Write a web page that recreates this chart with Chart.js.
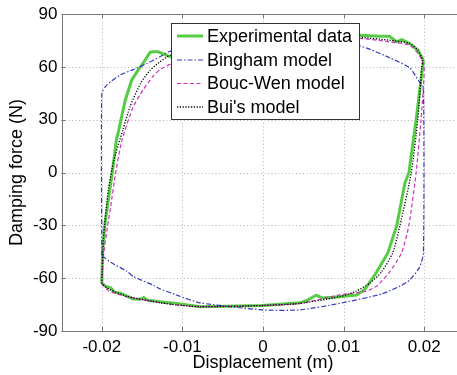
<!DOCTYPE html>
<html>
<head>
<meta charset="utf-8">
<script src="https://cdn.jsdelivr.net/npm/chart.js@4/dist/chart.umd.min.js"></script>
<style>
html,body{margin:0;padding:0;overflow:hidden;background:#fff;}
#wrap{width:470px;height:375px;}
</style>
</head>
<body>
<div id="wrap"><canvas id="c" width="470" height="375"></canvas></div>
<script>
// ---- tick values / labels ----
const xTickValues = [-0.02, -0.01, 0, 0.01, 0.02];
const xTickLabels = ['-0.02', '-0.01', '0', '0.01', '0.02'];
const yTickValues = [-90, -60, -30, 0, 30, 60, 90];
const yTickLabels = ['-90', '-60', '-30', '0', '30', '60', '90'];

const seriesNames = ['Experimental data', 'Bingham model', 'Bouc-Wen model', "Bui's model"];

// ---- Experimental data ----
const expDisp = [-0.0200,-0.0199,-0.0196,-0.0187,-0.0182,-0.0179,-0.0171,-0.0163,-0.0155,-0.0148,-0.0140,-0.0136,-0.0130,-0.0115,-0.008,-0.004,0,0.004,0.008,0.0120,0.0145,0.0157,0.0166,0.0172,0.0182,0.0192,0.0198,0.0199,0.0198,0.0190,0.0181,0.0176,0.0166,0.0155,0.0141,0.0133,0.0126,0.0116,0.0095,0.0074,0.0066,0.0055,0.0046,0,-0.0078,-0.0107,-0.0128,-0.0143,-0.0148,-0.0152,-0.0161,-0.0177,-0.0184,-0.0189,-0.0194,-0.0200];
const expForce = [-63,-44,-28.7,0,18.5,24,41,52.5,58.2,62.7,68.4,68.6,68.6,65.8,70,72,74,75.5,76.8,78,77.5,77.5,74.3,75.6,73.4,69.6,64.8,62,60,30,0,-6,-30,-45.5,-56.5,-62,-66.5,-69.6,-70.5,-71.3,-69.6,-72.5,-74,-75.5,-76.2,-74.3,-73.4,-72.5,-71,-72,-71.8,-68.5,-68,-65.5,-64.8,-63];

// ---- Bingham model ----
const bingDisp = [-0.0200,-0.0200,-0.0194,-0.0177,-0.0161,-0.0144,-0.0128,-0.0115,-0.008,-0.004,0,0.004,0.008,0.0120,0.0133,0.0157,0.0182,0.0194,0.0199,0.0199,0.0194,0.0182,0.0170,0.0147,0.0095,0.0046,0,-0.0078,-0.0107,-0.0128,-0.0136,-0.0161,-0.0169,-0.0189,-0.0200];
const bingForce = [-47,45,49.7,55.5,58.5,62,65.8,69,71.5,73.5,74.5,74.8,74.2,72,70,65.3,59.6,51.5,48.5,-45.8,-54,-61,-64.5,-69,-74.3,-78,-78,-74,-69.6,-66,-64,-59,-56,-51,-47];

// ---- Bouc-Wen model ----
const bwDisp = [-0.0200,-0.0198,-0.0193,-0.0189,-0.0183,-0.0175,-0.0161,-0.0149,-0.0136,-0.0128,-0.0115,-0.008,-0.004,0,0.004,0.008,0.0120,0.0157,0.0182,0.0194,0.0200,0.0196,0.0190,0.0181,0.0172,0.0157,0.0141,0.0127,0.0095,0.0046,0,-0.0078,-0.0107,-0.0128,-0.0169,-0.0192,-0.0200];
const bwForce = [-63,-47.8,-30.8,-19.4,-0.5,18.5,37.4,46.8,55,58.5,61.5,65.5,69,71.5,73.5,75,76.2,74.3,72.4,66.7,60,30,0,-30,-45.5,-56.5,-64.5,-67.5,-69.5,-74.3,-75.5,-76.2,-75.2,-73.9,-70.5,-67,-63];

// ---- Bui's model ----
const buiDisp = [-0.0200,-0.0198,-0.0192,-0.0185,-0.0174,-0.0165,-0.0152,-0.0140,-0.0128,-0.0115,-0.008,-0.004,0,0.004,0.008,0.0120,0.0157,0.0182,0.0192,0.0198,0.0197,0.0192,0.0184,0.0170,0.0161,0.0147,0.0132,0.0115,0.0095,0.0046,0,-0.0078,-0.0107,-0.0128,-0.0169,-0.0190,-0.0194,-0.0200];
const buiForce = [-63,-38,-10,7,24,37.4,50.6,58.2,62.9,66.7,69.5,71.5,73.2,74.6,75.8,76.8,75.2,73.4,69.6,63.9,60,30,0,-30,-45.5,-56.5,-63,-67.5,-70.5,-74.3,-75.5,-76.2,-75.2,-73.9,-70.3,-66.5,-65.5,-63];

function pts(xs, ys){ return xs.map((x,i)=>({x:x, y:ys[i]})); }

const FONT = '"Liberation Sans", Arial, Helvetica, sans-serif';

const gridPlugin = {
  id: 'dotGrid',
  beforeDatasetsDraw(chart){
    const ctx = chart.ctx;
    const a = chart.chartArea;
    const xs = chart.scales.x, ys = chart.scales.y;
    ctx.save();
    ctx.strokeStyle = '#b4b4b4';
    ctx.lineWidth = 1;
    ctx.setLineDash([1, 2.5]);
    ctx.beginPath();
    xTickValues.forEach(v=>{
      const px = Math.round(xs.getPixelForValue(v)) + 0.5;
      ctx.moveTo(px, a.top); ctx.lineTo(px, a.bottom);
    });
    yTickValues.forEach(v=>{
      const py = Math.round(ys.getPixelForValue(v)) + 0.5;
      ctx.moveTo(a.left, py); ctx.lineTo(a.right, py);
    });
    ctx.stroke();
    ctx.restore();
  }
};

const legendPlugin = {
  id: 'boxLegend',
  afterDraw(chart){
    const ctx = chart.ctx;
    const bx = 171.5, by = 23.5, bw = 188, bh = 96;
    ctx.save();
    ctx.fillStyle = '#fff';
    ctx.fillRect(bx, by, bw, bh);
    ctx.strokeStyle = '#333';
    ctx.lineWidth = 1;
    ctx.setLineDash([]);
    ctx.strokeRect(bx, by, bw, bh);
    const rows = [36, 60, 83.5, 107];
    chart.data.datasets.forEach((ds, i)=>{
      const y = rows[i];
      ctx.beginPath();
      ctx.strokeStyle = ds.borderColor;
      ctx.lineWidth = ds.borderWidth;
      ctx.setLineDash(ds.borderDash || []);
      ctx.moveTo(177, y);
      ctx.lineTo(203, y);
      ctx.stroke();
      ctx.setLineDash([]);
      ctx.fillStyle = '#000';
      ctx.font = '18px ' + FONT;
      ctx.textBaseline = 'middle';
      ctx.textAlign = 'left';
      ctx.fillText(ds.label, 207, y + 1);
    });
    ctx.restore();
  }
};

const framePlugin = {
  id: 'frame',
  afterDatasetsDraw(chart){
    const ctx = chart.ctx;
    const a = chart.chartArea;
    const xs = chart.scales.x, ys = chart.scales.y;
    ctx.save();
    ctx.strokeStyle = '#777';
    ctx.lineWidth = 1;
    ctx.setLineDash([]);
    ctx.strokeRect(Math.round(a.left)+0.5, Math.round(a.top)+0.5, Math.round(a.right-a.left), Math.round(a.bottom-a.top));
    ctx.beginPath();
    xTickValues.forEach(v=>{
      const px = Math.round(xs.getPixelForValue(v)) + 0.5;
      ctx.moveTo(px, a.top); ctx.lineTo(px, a.top + 4);
      ctx.moveTo(px, a.bottom); ctx.lineTo(px, a.bottom - 4);
    });
    yTickValues.forEach(v=>{
      const py = Math.round(ys.getPixelForValue(v)) + 0.5;
      ctx.moveTo(a.left, py); ctx.lineTo(a.left + 4, py);
      ctx.moveTo(a.right, py); ctx.lineTo(a.right - 4, py);
    });
    ctx.stroke();
    ctx.restore();
  }
};

new Chart(document.getElementById('c'), {
  type: 'scatter',
  data: {
    datasets: [
      { label: seriesNames[0], data: pts(expDisp, expForce), showLine: true, borderColor: '#55cc44', borderWidth: 3, pointRadius: 0, order: 4, tension: 0 },
      { label: seriesNames[1], data: pts(bingDisp, bingForce), showLine: true, borderColor: '#3838c0', borderWidth: 1.2, borderDash: [5,2,1.5,2], pointRadius: 0, order: 3, tension: 0.2 },
      { label: seriesNames[2], data: pts(bwDisp, bwForce), showLine: true, borderColor: '#cc33bb', borderWidth: 1.2, borderDash: [4,2.5], pointRadius: 0, order: 2, tension: 0.2 },
      { label: seriesNames[3], data: pts(buiDisp, buiForce), showLine: true, borderColor: '#000', borderWidth: 1.3, borderDash: [1.2,1.6], pointRadius: 0, order: 1, tension: 0.2 }
    ]
  },
  options: {
    responsive: false,
    animation: false,
    devicePixelRatio: 1,
    layout: { padding: { top: 14, right: 5.5, left: 0, bottom: 0 } },
    plugins: { legend: { display: false }, tooltip: { enabled: false } },
    scales: {
      x: {
        type: 'linear', min: -0.025, max: 0.025,
        afterBuildTicks: s => { s.ticks = xTickValues.map(v=>({value:v})); },
        afterFit: s => { s.height = 44; },
        ticks: { autoSkip: false, maxRotation: 0, padding: 6, color: '#000',
                 font: { family: FONT, size: 17 },
                 callback: v => xTickLabels[xTickValues.indexOf(v)] },
        grid: { display: false, drawTicks: false },
        border: { display: false },
        title: { display: true, text: 'Displacement (m)', color: '#000',
                 font: { family: FONT, size: 18 }, padding: { top: 0, bottom: 1 } }
      },
      y: {
        type: 'linear', min: -90, max: 90,
        afterBuildTicks: s => { s.ticks = yTickValues.map(v=>({value:v})); },
        afterFit: s => { s.width = 61.5; },
        ticks: { autoSkip: false, padding: 4, color: '#000',
                 font: { family: FONT, size: 17 },
                 callback: v => yTickLabels[yTickValues.indexOf(v)] },
        grid: { display: false, drawTicks: false },
        border: { display: false },
        title: { display: true, text: 'Damping force (N)', color: '#000',
                 font: { family: FONT, size: 18 }, padding: { top: 6, bottom: 0 } }
      }
    }
  },
  plugins: [gridPlugin, framePlugin, legendPlugin]
});
</script>
</body>
</html>
